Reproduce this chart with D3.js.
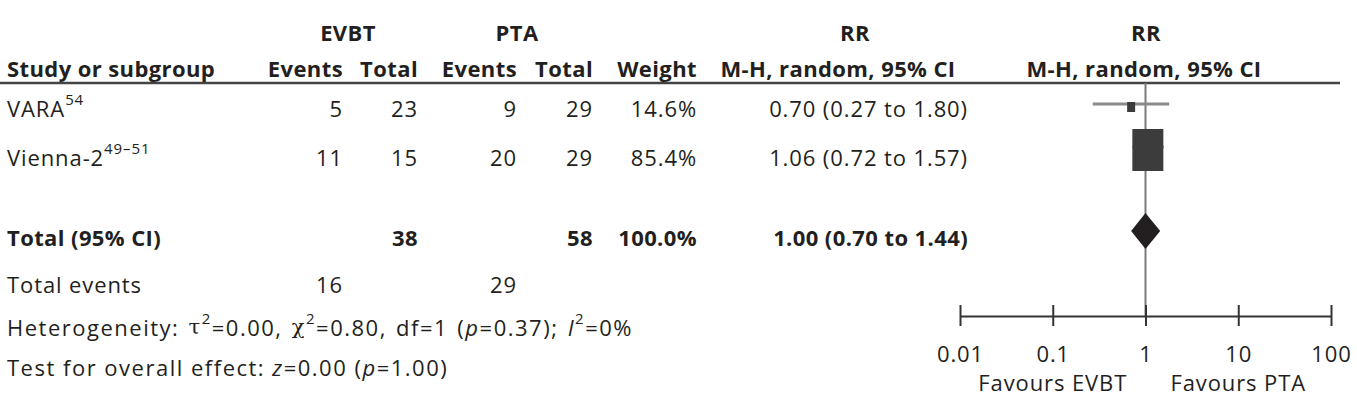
<!DOCTYPE html>
<html>
<head>
<meta charset="utf-8">
<script src="https://cdn.jsdelivr.net/npm/d3@7"></script>
<style>
  body { margin: 0; background: #fff; }
  svg text { font-family: "Open Sans", "Noto Sans", sans-serif; fill: #231f20; letter-spacing: 0.9px; }
  svg .bold text { letter-spacing: 0.4px; }
  svg text.stat { letter-spacing: 1.5px; }
</style>
</head>
<body>
<script>
// study data
const studies = ["VARA", "Vienna-2"];
const studyRefs = ["54", "49–51"];
const evbtEvents = [5, 11];
const evbtTotal = [23, 15];
const ptaEvents = [9, 20];
const ptaTotal = [29, 29];
const weights = [14.6, 85.4];
const rr = [0.70, 1.06];
const rrLow = [0.27, 0.72];
const rrHigh = [1.80, 1.57];

// pooled
const pooledRR = [1.00, 0.70, 1.44]; // estimate, low, high
const pooledTotals = [38, 58];
const pooledEvents = [16, 29];
const pooledWeight = 100.0;

const axisTicks = [0.01, 0.1, 1, 10, 100];
const favours = ["Favours EVBT", "Favours PTA"];

const W = 1357, H = 406;
const FS = 22;

// layout (column right edges, row centres)
const col = { study: 7, evE: 343, evT: 418, ptE: 517, ptT: 593, weight: 697, rrTxt: 968 };
const textY = [108, 157];
const markY = [106, 149];
const totalTextY = 237, totalMarkY = 231;

const svg = d3.select("body").append("svg")
    .attr("width", W)
    .attr("height", H);

const x = d3.scaleLog()
    .domain([0.01, 100])
    .range([960, 1331]);

// square sizes from weight
const sqW = d3.scaleLinear().domain(d3.extent(weights)).range([8, 31]);
const sqH = d3.scaleLinear().domain(d3.extent(weights)).range([10, 42]);

const fmt2 = d3.format(".2f");
const ciText = (m, l, h) => `${fmt2(m)} (${fmt2(l)} to ${fmt2(h)})`;

// headers
const head = svg.append("g").attr("class", "bold").attr("font-weight", 700).attr("font-size", FS);
function htext(xp, y, t, anchor) {
    head.append("text").attr("x", xp).attr("y", y)
        .attr("text-anchor", anchor).attr("dominant-baseline", "central").text(t);
}
htext(348, 32, "EVBT", "middle");
htext(517, 32, "PTA", "middle");
htext(855, 32, "RR", "middle");
htext(1146, 32, "RR", "middle");
htext(col.study, 68, "Study or subgroup", "start");
htext(col.evE, 68, "Events", "end");
htext(col.evT, 68, "Total", "end");
htext(col.ptE, 68, "Events", "end");
htext(col.ptT, 68, "Total", "end");
htext(col.weight, 68, "Weight", "end");
htext(838, 68, "M-H, random, 95% CI", "middle");
htext(1144, 68, "M-H, random, 95% CI", "middle");

svg.append("line")
    .attr("x1", 0).attr("x2", 1340)
    .attr("y1", 83).attr("y2", 83)
    .attr("stroke", "#444").attr("stroke-width", 2.5);

// study rows
const rows = svg.append("g").attr("font-size", FS);
studies.forEach((s, i) => {
    const y = textY[i];
    const t = rows.append("text").attr("x", col.study).attr("y", y)
        .attr("dominant-baseline", "central");
    t.append("tspan").text(s);
    t.append("tspan").attr("font-size", 15).attr("dy", -9).text(studyRefs[i]);
    const cells = [
        [col.evE, evbtEvents[i]],
        [col.evT, evbtTotal[i]],
        [col.ptE, ptaEvents[i]],
        [col.ptT, ptaTotal[i]],
        [col.weight, weights[i].toFixed(1) + "%"],
        [col.rrTxt, ciText(rr[i], rrLow[i], rrHigh[i])]
    ];
    cells.forEach(c => {
        rows.append("text").attr("x", c[0]).attr("y", y)
            .attr("text-anchor", "end").attr("dominant-baseline", "central").text(c[1]);
    });
});

// total row
const tot = svg.append("g").attr("class", "bold").attr("font-size", FS).attr("font-weight", 700);
[[col.study, "Total (95% CI)", "start"],
 [col.evT, pooledTotals[0], "end"],
 [col.ptT, pooledTotals[1], "end"],
 [col.weight, pooledWeight.toFixed(1) + "%", "end"],
 [col.rrTxt, ciText(pooledRR[0], pooledRR[1], pooledRR[2]), "end"]
].forEach(c => {
    tot.append("text").attr("x", c[0]).attr("y", totalTextY)
        .attr("text-anchor", c[2]).attr("dominant-baseline", "central").text(c[1]);
});

// footer text
const foot = svg.append("g").attr("font-size", FS);
foot.append("text").attr("x", col.study).attr("y", 284)
    .attr("dominant-baseline", "central").text("Total events");
foot.append("text").attr("x", col.evE).attr("y", 284).attr("text-anchor", "end")
    .attr("dominant-baseline", "central").text(pooledEvents[0]);
foot.append("text").attr("x", col.ptE).attr("y", 284).attr("text-anchor", "end")
    .attr("dominant-baseline", "central").text(pooledEvents[1]);

function richLine(y, parts, ws) {
    const t = foot.append("text").attr("class", "stat").attr("x", col.study).attr("y", y)
        .attr("dominant-baseline", "central")
        .style("word-spacing", ws + "px");
    parts.forEach(p => {
        const sp = t.append("tspan").text(p.t);
        if (p.it) sp.attr("font-style", "italic");
        if (p.greek) sp.style("font-family", "'DejaVu Serif', serif").attr("font-size", 21);
        if (p.sup) sp.attr("font-size", 15).attr("dy", -9);
        if (p.down) sp.attr("dy", 9);
    });
}
richLine(327, [
    { t: "Heterogeneity: " }, { t: "τ", greek: true }, { t: "2", sup: true },
    { t: "=0.00, ", down: true }, { t: "χ", greek: true }, { t: "2", sup: true },
    { t: "=0.80, df=1 (", down: true }, { t: "p", it: true }, { t: "=0.37); " },
    { t: "I", it: true }, { t: "2", sup: true }, { t: "=0%", down: true }
], 2);
richLine(367, [
    { t: "Test for overall effect: " }, { t: "z", it: true }, { t: "=0.00 (" },
    { t: "p", it: true }, { t: "=1.00)" }
], 0);

// forest plot
const plot = svg.append("g");
const axisY = 316;

plot.append("line")
    .attr("x1", x(1)).attr("x2", x(1))
    .attr("y1", 83).attr("y2", axisY)
    .attr("stroke", "#7a7a7a").attr("stroke-width", 2);

studies.forEach((s, i) => {
    plot.append("line")
        .attr("x1", x(rrLow[i])).attr("x2", x(rrHigh[i]))
        .attr("y1", markY[i] - 2).attr("y2", markY[i] - 2)
        .attr("stroke", "#8a8a8a").attr("stroke-width", 3);
    plot.append("rect")
        .attr("x", x(rr[i]) - sqW(weights[i]) / 2)
        .attr("y", markY[i] - sqH(weights[i]) / 2 + 1)
        .attr("width", sqW(weights[i]))
        .attr("height", sqH(weights[i]))
        .attr("fill", "#3c3c3c");
});

const dh = 18;
plot.append("path")
    .attr("d", `M${x(pooledRR[1])},${totalMarkY} L${x(pooledRR[0])},${totalMarkY - dh} L${x(pooledRR[2])},${totalMarkY} L${x(pooledRR[0])},${totalMarkY + dh} Z`)
    .attr("fill", "#231f20");

const xAxis = d3.axisBottom(x)
    .tickValues(axisTicks)
    .tickFormat(d => d3.format("~g")(d))
    .tickSizeInner(10)
    .tickSizeOuter(0)
    .tickPadding(20);

const ax = plot.append("g")
    .attr("transform", `translate(0,${axisY})`)
    .call(xAxis);
ax.select(".domain").attr("stroke", "#333").attr("stroke-width", 2);
ax.selectAll(".tick line").attr("y1", -11).attr("stroke", "#333").attr("stroke-width", 2);
ax.selectAll(".tick text")
    .attr("font-size", FS)
    .attr("font-family", "Open Sans, sans-serif")
    .attr("fill", "#231f20");

plot.selectAll("text.fav")
    .data(favours)
    .enter()
    .append("text")
    .attr("class", "fav")
    .attr("x", (d, i) => x(axisTicks[1 + i * 2]))
    .attr("y", 382)
    .attr("text-anchor", "middle")
    .attr("dominant-baseline", "central")
    .attr("font-size", FS)
    .text(d => d);
</script>
</body>
</html>
